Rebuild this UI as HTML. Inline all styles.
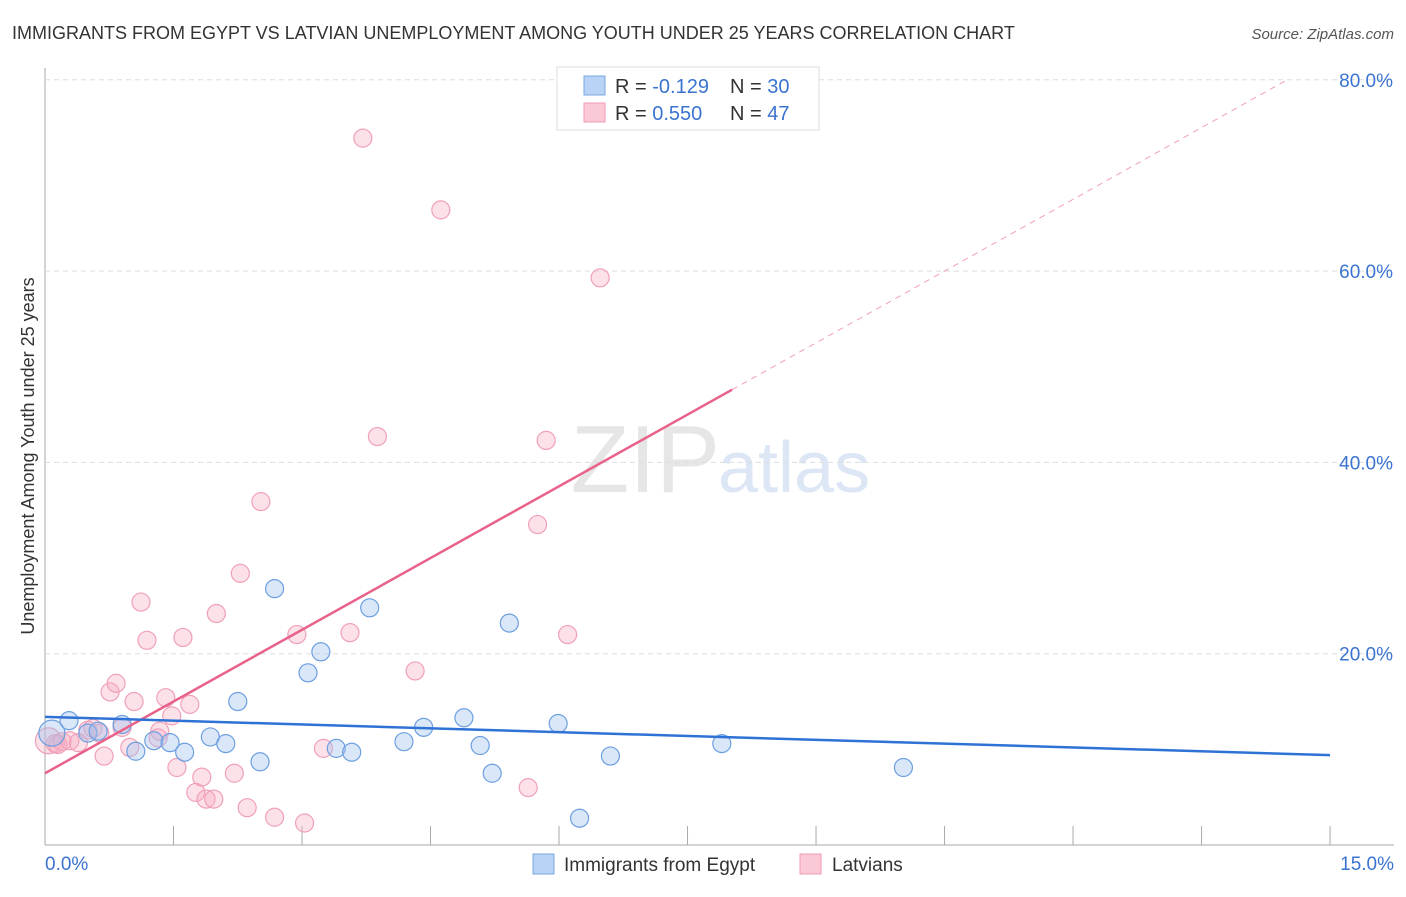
<!DOCTYPE html>
<html><head><meta charset="utf-8"><style>
body{margin:0;background:#fff;font-family:"Liberation Sans",sans-serif}
svg text{font-family:"Liberation Sans",sans-serif}
</style></head><body>
<svg id="c" width="1406" height="892" viewBox="0 0 1406 892">
<text x="12" y="39" font-size="18" fill="#333">IMMIGRANTS FROM EGYPT VS LATVIAN UNEMPLOYMENT AMONG YOUTH UNDER 25 YEARS CORRELATION CHART</text>
<text x="1394" y="39" font-size="15" fill="#555" font-style="italic" text-anchor="end">Source: ZipAtlas.com</text>
<text x="720" y="492" font-size="96" fill="#e6e6e6" text-anchor="end" font-family="Liberation Serif">ZIP</text>
<text x="718" y="492" font-size="72" fill="#dce6f5">atlas</text>
<text transform="translate(34,456) rotate(-90)" font-size="18" fill="#333" text-anchor="middle">Unemployment Among Youth under 25 years</text>
<g id="grid"></g><g id="marks"></g>
<g>
<rect x="557" y="67" width="262" height="63" fill="#fff" stroke="#ddd"/>
<rect x="584" y="76" width="21" height="19" fill="#b8d3f5" stroke="#7aa7e0"/>
<rect x="584" y="103" width="21" height="19" fill="#fbc8d6" stroke="#f09ab2"/>
<text x="615" y="93" font-size="20" fill="#333">R = <tspan fill="#3a73d0">-0.129</tspan></text>
<text x="730" y="93" font-size="20" fill="#333">N = <tspan fill="#3a73d0">30</tspan></text>
<text x="615" y="120" font-size="20" fill="#333">R = <tspan fill="#3a73d0"> 0.550</tspan></text>
<text x="730" y="120" font-size="20" fill="#333">N = <tspan fill="#3a73d0">47</tspan></text>
</g>
<g>
<rect x="533" y="854" width="21" height="20" fill="#b8d3f5" stroke="#7aa7e0"/>
<text x="564" y="871" font-size="19" fill="#333">Immigrants from Egypt</text>
<rect x="800" y="854" width="21" height="20" fill="#fbc8d6" stroke="#f09ab2"/>
<text x="832" y="871" font-size="19" fill="#333">Latvians</text>
</g>
</svg>
<script>
const blueX=[0.08,0.28,0.50,0.62,0.90,1.06,1.27,1.46,1.63,1.93,2.11,2.25,2.51,2.68,3.07,3.22,3.40,3.58,3.79,4.19,4.42,4.89,5.08,5.22,5.42,5.99,6.24,6.60,7.90,10.02];
const blueY=[11.7,13.0,11.7,11.9,12.6,9.8,10.9,10.7,9.7,11.3,10.6,15.0,8.7,26.8,18.0,20.2,10.1,9.7,24.8,10.8,12.3,13.3,10.4,7.5,23.2,12.7,2.8,9.3,10.6,8.1];
const pinkX=[0.04,0.12,0.20,0.29,0.50,0.56,0.69,0.76,0.83,0.90,0.99,1.04,1.12,1.19,1.32,1.41,1.48,1.54,1.61,1.69,1.76,1.83,1.88,1.97,2.00,2.21,2.28,2.36,2.52,2.68,2.94,3.03,3.25,3.56,3.71,3.88,4.32,4.62,5.64,5.75,5.85,6.10,6.48,1.34,0.15,0.39,0.64];
const pinkY=[10.9,10.6,10.8,10.9,12.0,12.2,9.3,16.0,16.9,12.3,10.2,15.0,25.4,21.4,11.2,15.4,13.5,8.1,21.7,14.7,5.5,7.1,4.8,4.8,24.2,7.5,28.4,3.9,35.9,2.9,22.0,2.3,10.1,22.2,73.9,42.7,18.2,66.4,6.0,33.5,42.3,22.0,59.3,11.9,10.5,10.7,11.7];
const blueTrend=[13.4,-0.267];
const pinkTrend=[7.5,5.0];
const yTicks=[20,40,60,80];
const xTickLabels=["0.0%","15.0%"];
const sx=v=>45+v*85.67, sy=v=>845-v*9.565;
const NS="http://www.w3.org/2000/svg";
function mk(p,t,a){const e=document.createElementNS(NS,t);for(const k in a)e.setAttribute(k,a[k]);p.appendChild(e);return e;}
const g=document.getElementById('grid'), m=document.getElementById('marks');
let ax=mk(g,'line',{x1:45,y1:68,x2:45,y2:845,stroke:'#aaa'});


let bx=mk(g,'line',{x1:45,y1:845,x2:1394,y2:845,stroke:'#aaa'});


for(let i=1;i<=10;i++){const x=sx(i*1.5);const t=mk(g,'line',{x1:x,y1:826,x2:x,y2:845,stroke:'#aaa'});

}
yTicks.forEach(v=>{const y=sy(v);const l=mk(g,'line',{x1:45,y1:y,x2:1394,y2:y,stroke:'#ddd','stroke-dasharray':'5,4'});


const t=mk(g,'text',{x:1393,y:y+7,'font-size':19,fill:'#3a73d0','text-anchor':'end'});t.textContent=v.toFixed(1)+'%';

});
[[0,'start',45],[15,'end',1394]].forEach((d,i)=>{const t=mk(g,'text',{x:d[2],y:870,'font-size':19,fill:'#3a73d0','text-anchor':d[1]});t.textContent=xTickLabels[i];

});
pinkX.forEach((x,i)=>{const c=mk(m,'circle',{cx:sx(x),cy:sy(pinkY[i]),r:i==0?13:9,fill:'rgba(246,170,192,0.35)',stroke:'#f0a0b8','stroke-width':1.2});

});
blueX.forEach((x,i)=>{const c=mk(m,'circle',{cx:sx(x),cy:sy(blueY[i]),r:i==0?13:9,fill:'rgba(160,195,240,0.4)',stroke:'#6d9fe0','stroke-width':1.2});

});
const pe=(pinkTrend[0]>0)?(80-pinkTrend[0])/pinkTrend[1]:14.5;
let l1=mk(m,'line',{x1:sx(8.02),y1:sy(pinkTrend[0]+pinkTrend[1]*8.02),x2:sx(pe),y2:sy(80),stroke:'#f0a0b8','stroke-width':1,'stroke-dasharray':'6,5'});


let l2=mk(m,'line',{x1:sx(0),y1:sy(pinkTrend[0]),x2:sx(8.02),y2:sy(pinkTrend[0]+pinkTrend[1]*8.02),stroke:'#e8628a','stroke-width':2.5});


let l3=mk(m,'line',{x1:sx(0),y1:sy(blueTrend[0]),x2:sx(15),y2:sy(blueTrend[0]+blueTrend[1]*15),stroke:'#2f72d6','stroke-width':2.5});


</script>
</body></html>
